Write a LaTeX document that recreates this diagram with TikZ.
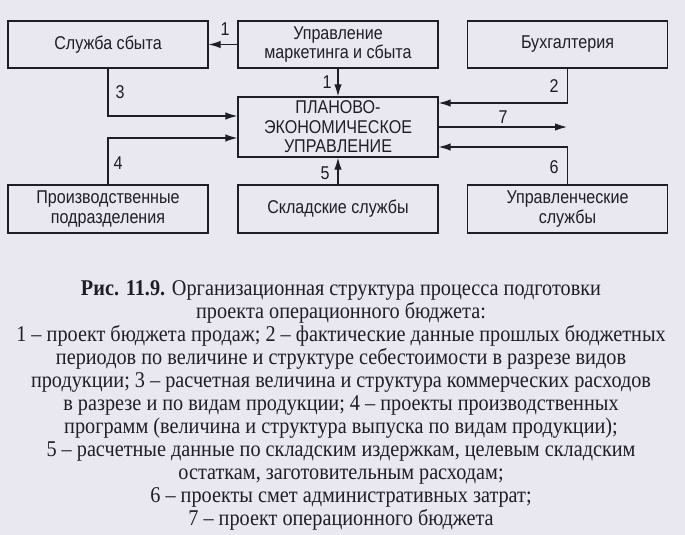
\documentclass[tikz,border=0pt]{standalone}
\usepackage{fontspec}
\setmainfont{Liberation Serif}
\newfontfamily\boxfont[FakeStretch=0.87]{Liberation Sans}
\newfontfamily\capfont[FakeStretch=0.9]{Liberation Serif}
\usepackage{tikz}
\usetikzlibrary{arrows.meta}
\usetikzlibrary{calc}
\definecolor{paper}{RGB}{233,231,240}
\definecolor{ink}{RGB}{30,30,38}

\begin{document}
\begin{tikzpicture}[x=1pt, y=-1pt,
		unit/.style={draw=ink, line width=1.3pt, inner sep=0pt, text=ink, align=center,
			font=\boxfont\fontsize{18.5}{19.5}\selectfont, minimum width=200pt, minimum height=47pt},
		num/.style={text=ink, font=\boxfont\fontsize{18.5}{19.5}\selectfont},
		flow/.style={draw=ink, line width=1.3pt, arrows={-Latex[length=12pt,width=7.5pt]}}]
		\fill[paper] (0, 0) rectangle (685, 535);
		\useasboundingbox (0, 0) rectangle (685, 535);
		% top row
		\node[unit] (sales) at (108, 44.5) {Служба сбыта};
		\node[unit] (market) at (338, 44.5) {Управление\\маркетинга и сбыта};
		\node[unit] (account) at (567.5, 44.5) {Бухгалтерия};
		% centre
		\node[unit, minimum height=60pt] (plan) at (338, 127) {ПЛАНОВО-\\ЭКОНОМИЧЕСКОЕ\\УПРАВЛЕНИЕ};
		% bottom row
		\node[unit, minimum height=48pt] (prod) at (108, 209) {Производственные\\подразделения};
		\node[unit, minimum height=48pt] (store) at (338, 209) {Складские службы};
		\node[unit, minimum height=48pt] (admin) at (567.5, 209) {Управленческие\\службы};
		\coordinate (out) at (567, 127);
		% flows
		\draw[flow] (market.west) -- (sales.east);
		\node[num] (n1a) at (225, 29) {1};
		\draw[flow] (market.south) -- (plan.north);
		\node[num] (n1b) at (327, 82) {1};
		\draw[flow] (account.south) |- ([yshift=24pt]plan.east);
		\node[num] (n2) at (554, 86) {2};
		\draw[flow] (sales.south) |- ([yshift=11pt]plan.west);
		\node[num] (n3) at (120, 92) {3};
		\draw[flow] (prod.north) |- ([yshift=-11pt]plan.west);
		\node[num] (n4) at (118, 163) {4};
		\draw[flow] (store.north) -- (plan.south);
		\node[num] (n5) at (325, 173) {5};
		\draw[flow] (admin.north) |- ([yshift=-20pt]plan.east);
		\node[num] (n6) at (554, 167) {6};
		\draw[flow] (plan.east) -- (out);
		\node[num] (n7) at (503, 117) {7};
		% caption
		\node[anchor=base, align=center, text=ink, inner sep=0pt,
			font=\capfont\fontsize{22.5}{23}\selectfont] (caption) at (341, 525)
			{\textbf{Рис. 11.9.} Организационная структура процесса подготовки\\
			проекта операционного бюджета:\\
			1 – проект бюджета продаж; 2 – фактические данные прошлых бюджетных\\
			периодов по величине и структуре себестоимости в разрезе видов\\
			продукции; 3 – расчетная величина и структура коммерческих расходов\\
			в разрезе и по видам продукции; 4 – проекты производственных\\
			программ (величина и структура выпуска по видам продукции);\\
			5 – расчетные данные по складским издержкам, целевым складским\\
			остаткам, заготовительным расходам;\\
			6 – проекты смет административных затрат;\\
			7 – проект операционного бюджета};
	\end{tikzpicture}
\end{document}
